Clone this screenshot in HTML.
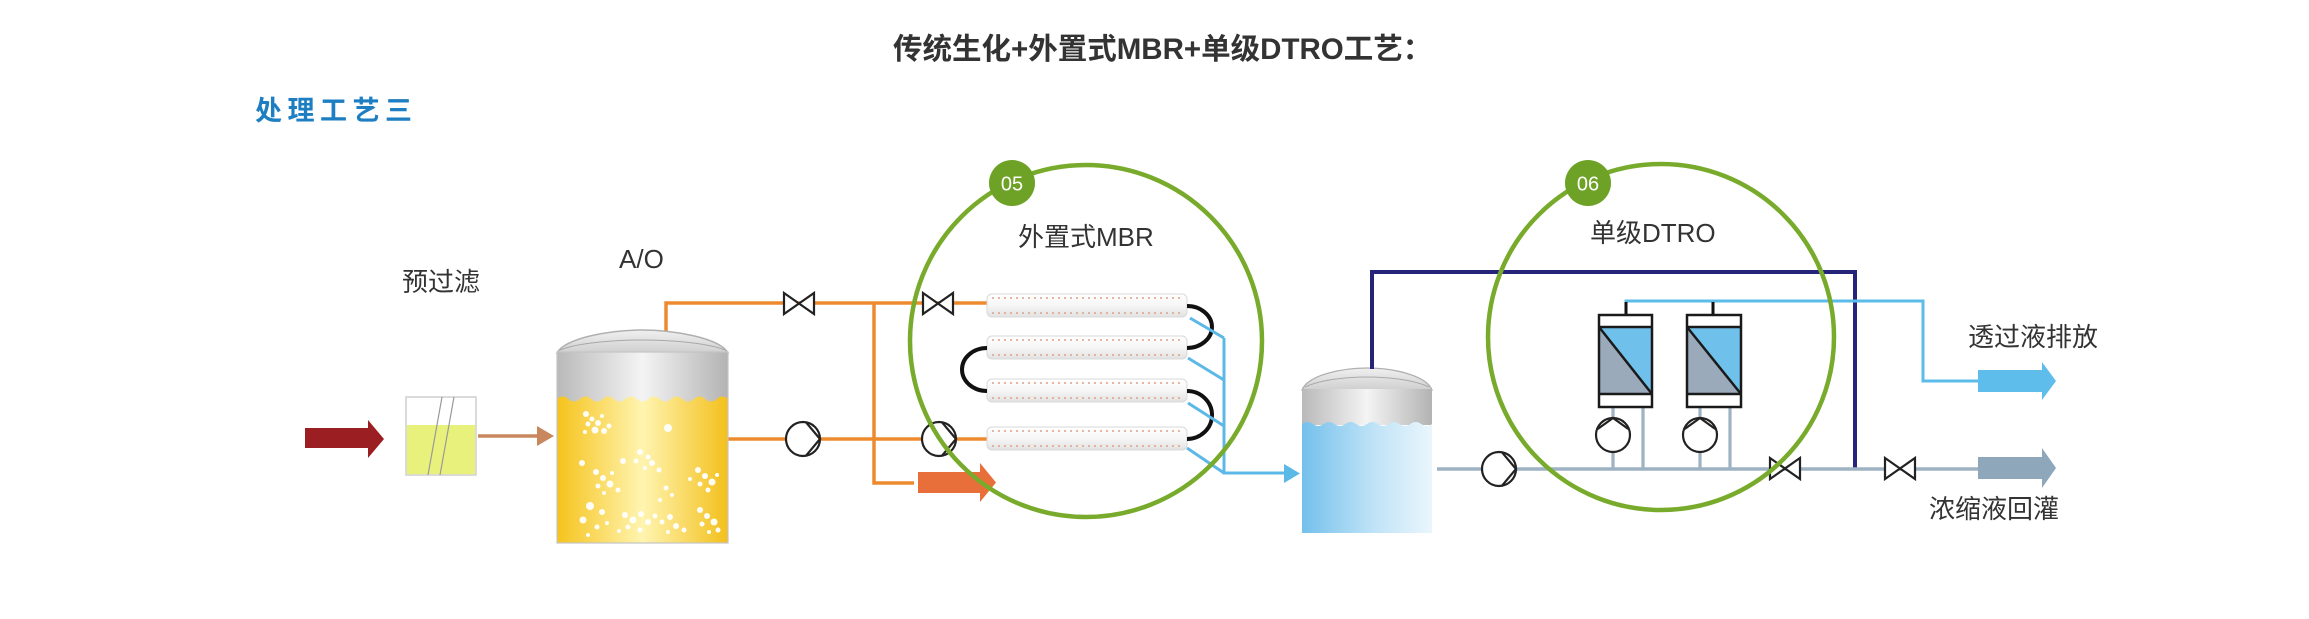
<!DOCTYPE html>
<html>
<head>
<meta charset="utf-8">
<style>
html,body{margin:0;padding:0;background:#fff;}
body{width:2309px;height:619px;overflow:hidden;}
svg{display:block;}
.lbl{font-family:"Liberation Sans","Noto Sans CJK SC",sans-serif;font-size:26px;fill:#333;}
</style>
</head>
<body>
<svg width="2309" height="619" viewBox="0 0 2309 619" xmlns="http://www.w3.org/2000/svg">
<defs>
  <linearGradient id="gband" x1="0" y1="0" x2="1" y2="0">
    <stop offset="0" stop-color="#b9b9b9"/>
    <stop offset="0.5" stop-color="#f4f4f4"/>
    <stop offset="1" stop-color="#b3b3b3"/>
  </linearGradient>
  <linearGradient id="gdome" x1="0" y1="0" x2="0" y2="1">
    <stop offset="0" stop-color="#f0f0f0"/>
    <stop offset="1" stop-color="#cfcfcf"/>
  </linearGradient>
  <linearGradient id="gyel" x1="0" y1="0" x2="1" y2="0">
    <stop offset="0" stop-color="#f5c31c"/>
    <stop offset="0.5" stop-color="#fff4b0"/>
    <stop offset="1" stop-color="#f3c01c"/>
  </linearGradient>
  <linearGradient id="gblue" x1="0" y1="0" x2="1" y2="0">
    <stop offset="0" stop-color="#74c0ec"/>
    <stop offset="0.55" stop-color="#bfe3f7"/>
    <stop offset="1" stop-color="#eaf6fd"/>
  </linearGradient>
  <linearGradient id="gtube" x1="0" y1="0" x2="0" y2="1">
    <stop offset="0" stop-color="#ffffff"/>
    <stop offset="0.5" stop-color="#f6f6f6"/>
    <stop offset="1" stop-color="#e2e2e2"/>
  </linearGradient>
</defs>

<!-- Title -->
<text x="893" y="59" font-family="Liberation Sans, Noto Sans CJK SC, sans-serif" font-size="29.5" font-weight="bold" fill="#333">传统生化+外置式MBR+单级DTRO工艺：</text>
<text x="255" y="120" font-family="Liberation Sans, Noto Sans CJK SC, sans-serif" font-size="27" font-weight="bold" fill="#1d7ec2" letter-spacing="5.5">处理工艺三</text>

<!-- Labels -->
<text class="lbl" x="402" y="291">预过滤</text>
<text class="lbl" x="619" y="268" font-size="27">A/O</text>
<text class="lbl" x="1018" y="246">外置式MBR</text>
<text class="lbl" x="1590" y="242">单级DTRO</text>
<text class="lbl" x="1968" y="346">透过液排放</text>
<text class="lbl" x="1929" y="518">浓缩液回灌</text>

<!-- Inlet red arrow -->
<polygon points="305,428 368,428 368,420 384,439 368,458 368,448 305,448" fill="#9b1f22"/>

<!-- Prefilter -->
<rect x="406" y="397" width="70" height="78" fill="#fff" stroke="#cfcfcf" stroke-width="1.5"/>
<rect x="406.8" y="425" width="68.4" height="49.2" fill="#e8f17c"/>
<line x1="442" y1="397" x2="428" y2="475" stroke="#9a9a9a" stroke-width="1.2"/>
<line x1="454" y1="397" x2="440" y2="475" stroke="#9a9a9a" stroke-width="1.2"/>

<!-- brown arrow -->
<line x1="478" y1="436" x2="541" y2="436" stroke="#c8875c" stroke-width="3.5"/>
<polygon points="537,426 554,436 537,446" fill="#c8875c"/>

<!-- Orange pipes -->
<g stroke="#ee8a2e" stroke-width="3.5" fill="none">
  <polyline points="666,333 666,303 988,303"/>
  <line x1="728" y1="439" x2="988" y2="439"/>
  <polyline points="874,303 874,483 914,483"/>
</g>
<polygon points="918,472 980,472 980,463 996,482.5 980,502 980,493 918,493" fill="#e96f3a"/>

<!-- A/O tank -->
<path d="M557,353 C565,338 610,330 642,330 C674,330 720,338 728,353 Z" fill="url(#gdome)" stroke="#b0b0b0" stroke-width="1.5"/>
<path d="M560,350 C580,342 620,340 642,340 C664,340 705,342 725,350" fill="none" stroke="#a8a8a8" stroke-width="1"/>
<rect x="557" y="352" width="171" height="50" fill="url(#gband)"/>
<path d="M557,399 q5.7,-5 11.4,0 t11.4,0 t11.4,0 t11.4,0 t11.4,0 t11.4,0 t11.4,0 t11.4,0 t11.4,0 t11.4,0 t11.4,0 t11.4,0 t11.4,0 t11.4,0 t11.4,0 L728,543 L557,543 Z" fill="url(#gyel)"/>
<rect x="557" y="352" width="171" height="191" fill="none" stroke="#c4c4c4" stroke-width="1.2"/>
<g fill="#fff" opacity="0.95">
  <circle cx="586" cy="414" r="3"/><circle cx="592" cy="419" r="2.5"/><circle cx="598" cy="423" r="3"/><circle cx="588" cy="424" r="2.5"/><circle cx="595" cy="430" r="3.5"/><circle cx="604" cy="431" r="3"/><circle cx="602" cy="416" r="2"/><circle cx="609" cy="426" r="2.5"/><circle cx="585" cy="432" r="2"/>
  <circle cx="668" cy="428" r="4"/>
  <circle cx="640" cy="452" r="3"/><circle cx="648" cy="457" r="2.5"/><circle cx="636" cy="461" r="2.5"/><circle cx="652" cy="463" r="3"/><circle cx="645" cy="468" r="2"/><circle cx="623" cy="461" r="3"/><circle cx="659" cy="470" r="2.5"/>
  <circle cx="582" cy="463" r="3"/>
  <circle cx="596" cy="472" r="3"/><circle cx="603" cy="478" r="3"/><circle cx="610" cy="484" r="3.5"/><circle cx="598" cy="486" r="2.5"/><circle cx="612" cy="473" r="2"/><circle cx="618" cy="490" r="2.5"/><circle cx="604" cy="493" r="2"/>
  <circle cx="698" cy="470" r="3"/><circle cx="705" cy="476" r="3"/><circle cx="712" cy="482" r="3.5"/><circle cx="700" cy="484" r="2.5"/><circle cx="717" cy="475" r="2"/><circle cx="708" cy="490" r="2.5"/><circle cx="690" cy="479" r="2"/>
  <circle cx="666" cy="488" r="2.5"/><circle cx="672" cy="495" r="2"/><circle cx="660" cy="500" r="2"/>
  <circle cx="590" cy="506" r="4"/><circle cx="602" cy="512" r="3"/><circle cx="583" cy="520" r="3.5"/><circle cx="597" cy="527" r="2.5"/><circle cx="607" cy="523" r="2"/><circle cx="588" cy="535" r="2"/>
  <circle cx="625" cy="515" r="3"/><circle cx="633" cy="520" r="3.5"/><circle cx="641" cy="514" r="3"/><circle cx="628" cy="527" r="2.5"/><circle cx="648" cy="522" r="3"/><circle cx="655" cy="516" r="2.5"/><circle cx="640" cy="530" r="2.5"/><circle cx="619" cy="531" r="2"/>
  <circle cx="662" cy="522" r="2.5"/><circle cx="670" cy="517" r="3"/><circle cx="676" cy="526" r="3"/><circle cx="684" cy="530" r="2.5"/><circle cx="668" cy="532" r="2"/>
  <circle cx="700" cy="510" r="3"/><circle cx="707" cy="516" r="3"/><circle cx="714" cy="522" r="3.5"/><circle cx="702" cy="524" r="2.5"/><circle cx="718" cy="530" r="2.5"/><circle cx="709" cy="532" r="2"/>
</g>

<!-- MBR tubes -->
<g>
  <rect x="987" y="294" width="200" height="23" rx="5" fill="url(#gtube)" stroke="#d8d8d8" stroke-width="1"/>
  <rect x="987" y="336" width="200" height="23" rx="5" fill="url(#gtube)" stroke="#d8d8d8" stroke-width="1"/>
  <rect x="987" y="379" width="200" height="23" rx="5" fill="url(#gtube)" stroke="#d8d8d8" stroke-width="1"/>
  <rect x="987" y="427" width="200" height="23" rx="5" fill="url(#gtube)" stroke="#d8d8d8" stroke-width="1"/>
  <g stroke="#dba283" stroke-width="1.6" stroke-dasharray="2 4">
    <line x1="992" y1="298" x2="1182" y2="298"/><line x1="992" y1="313" x2="1182" y2="313"/>
    <line x1="992" y1="340" x2="1182" y2="340"/><line x1="992" y1="355" x2="1182" y2="355"/>
    <line x1="992" y1="383" x2="1182" y2="383"/><line x1="992" y1="398" x2="1182" y2="398"/>
    <line x1="992" y1="431" x2="1182" y2="431"/><line x1="992" y1="446" x2="1182" y2="446"/>
  </g>
</g>
<!-- U connectors -->
<g stroke="#111" stroke-width="4" fill="none">
  <path d="M1187,306 A25,21 0 0 1 1187,348"/>
  <path d="M987,348 A25,21.5 0 0 0 987,391"/>
  <path d="M1187,391 A25,24 0 0 1 1187,439"/>
</g>
<!-- blue permeate MBR -->
<g stroke="#5cb8e6" stroke-width="3" fill="none">
  <line x1="1190" y1="318" x2="1224" y2="338"/>
  <line x1="1188" y1="358" x2="1224" y2="380"/>
  <line x1="1188" y1="403" x2="1224" y2="426"/>
  <line x1="1187" y1="448" x2="1224" y2="473"/>
  <polyline points="1224,338 1224,473 1288,473"/>
</g>
<polygon points="1284,464 1300,473.5 1284,483" fill="#5cb8e6"/>

<!-- valves & pumps MBR -->
<g stroke="#222" stroke-width="2.2" fill="#fff">
  <path d="M784,293 L814,314 L814,293 L784,314 Z"/>
  <path d="M923,293 L953,314 L953,293 L923,314 Z"/>
  <circle cx="803" cy="439" r="17"/>
  <polyline points="806,422.3 820,439 806,455.7" fill="none"/>
  <circle cx="939" cy="439" r="17"/>
  <polyline points="942,422.3 956,439 942,455.7" fill="none"/>
</g>

<!-- Holding tank -->
<path d="M1302,390 C1308,375 1342,368 1367,368 C1392,368 1426,375 1432,390 Z" fill="url(#gdome)" stroke="#b0b0b0" stroke-width="1.3"/>
<path d="M1305,387 C1320,380 1345,377 1367,377 C1389,377 1414,380 1429,387" fill="none" stroke="#aaa" stroke-width="1"/>
<rect x="1302" y="389" width="130" height="36" fill="url(#gband)"/>
<path d="M1302,424 q5.4167,-4 10.8333,0 t10.8333,0 t10.8333,0 t10.8333,0 t10.8333,0 t10.8333,0 t10.8333,0 t10.8333,0 t10.8333,0 t10.8333,0 t10.8333,0 t10.8333,0 L1432,533 L1302,533 Z" fill="url(#gblue)"/>

<!-- navy recirculation line -->
<polyline points="1372,369 1372,272 1855,272 1855,469" stroke="#25247a" stroke-width="4" fill="none"/>

<!-- gray main line -->
<line x1="1437" y1="469" x2="1980" y2="469" stroke="#9db2c2" stroke-width="3.5"/>
<g stroke="#9db2c2" stroke-width="3.2">
  <line x1="1613" y1="407" x2="1613" y2="469"/>
  <line x1="1643" y1="407" x2="1643" y2="469"/>
  <line x1="1700" y1="407" x2="1700" y2="469"/>
  <line x1="1730" y1="407" x2="1730" y2="469"/>
</g>
<polygon points="1978,457 2042,457 2042,448 2056,468 2042,488 2042,479 1978,479" fill="#8ea7ba"/>

<!-- permeate DTRO -->
<polyline points="1626,315 1626,301 1923,301 1923,381 1980,381" stroke="#5cbce9" stroke-width="3" fill="none"/>
<line x1="1713" y1="315" x2="1713" y2="301" stroke="#5cbce9" stroke-width="3"/>
<line x1="1626" y1="302" x2="1626" y2="315" stroke="#111" stroke-width="3"/>
<line x1="1713" y1="302" x2="1713" y2="315" stroke="#111" stroke-width="3"/>
<polygon points="1978,370 2042,370 2042,362 2056,381 2042,400 2042,392 1978,392" fill="#5fbdec"/>

<!-- DTRO modules -->
<g>
  <rect x="1599" y="315" width="53" height="92" fill="#fff"/>
  <polygon points="1599,327 1652,327 1652,394" fill="#6fc0ea"/>
  <polygon points="1599,327 1652,394 1599,394" fill="#9aaabb"/>
  <g stroke="#1a1a1a" stroke-width="2.5" fill="none">
    <rect x="1599" y="315" width="53" height="92"/>
    <line x1="1599" y1="327" x2="1652" y2="327"/>
    <line x1="1599" y1="394" x2="1652" y2="394"/>
    <line x1="1599" y1="327" x2="1652" y2="394"/>
  </g>
  <rect x="1687" y="315" width="54" height="92" fill="#fff"/>
  <polygon points="1687,327 1741,327 1741,394" fill="#6fc0ea"/>
  <polygon points="1687,327 1741,394 1687,394" fill="#9aaabb"/>
  <g stroke="#1a1a1a" stroke-width="2.5" fill="none">
    <rect x="1687" y="315" width="54" height="92"/>
    <line x1="1687" y1="327" x2="1741" y2="327"/>
    <line x1="1687" y1="394" x2="1741" y2="394"/>
    <line x1="1687" y1="327" x2="1741" y2="394"/>
  </g>
</g>

<!-- DTRO pumps & valves -->
<g stroke="#222" stroke-width="2.2" fill="#fff">
  <circle cx="1499" cy="469" r="17"/>
  <polyline points="1502,452.3 1516,469 1502,485.7" fill="none"/>
  <circle cx="1613" cy="435" r="17"/>
  <polyline points="1597.7,429 1613,418 1628.3,429" fill="none"/>
  <circle cx="1700" cy="435" r="17"/>
  <polyline points="1684.7,429 1700,418 1715.3,429" fill="none"/>
  <path d="M1770,458 L1800,479 L1800,458 L1770,479 Z"/>
  <path d="M1885,458 L1915,479 L1915,458 L1885,479 Z"/>
</g>

<!-- Green circles -->
<circle cx="1086" cy="341" r="176" fill="none" stroke="#78ab2b" stroke-width="4.5"/>
<circle cx="1661" cy="337" r="173" fill="none" stroke="#78ab2b" stroke-width="4.5"/>
<circle cx="1012" cy="183" r="23" fill="#6ea226"/>
<circle cx="1588" cy="183" r="23" fill="#6ea226"/>
<text x="1012" y="190.5" text-anchor="middle" font-family="Liberation Sans, sans-serif" font-size="20" fill="#fff">05</text>
<text x="1588" y="190.5" text-anchor="middle" font-family="Liberation Sans, sans-serif" font-size="20" fill="#fff">06</text>
</svg>
</body>
</html>
